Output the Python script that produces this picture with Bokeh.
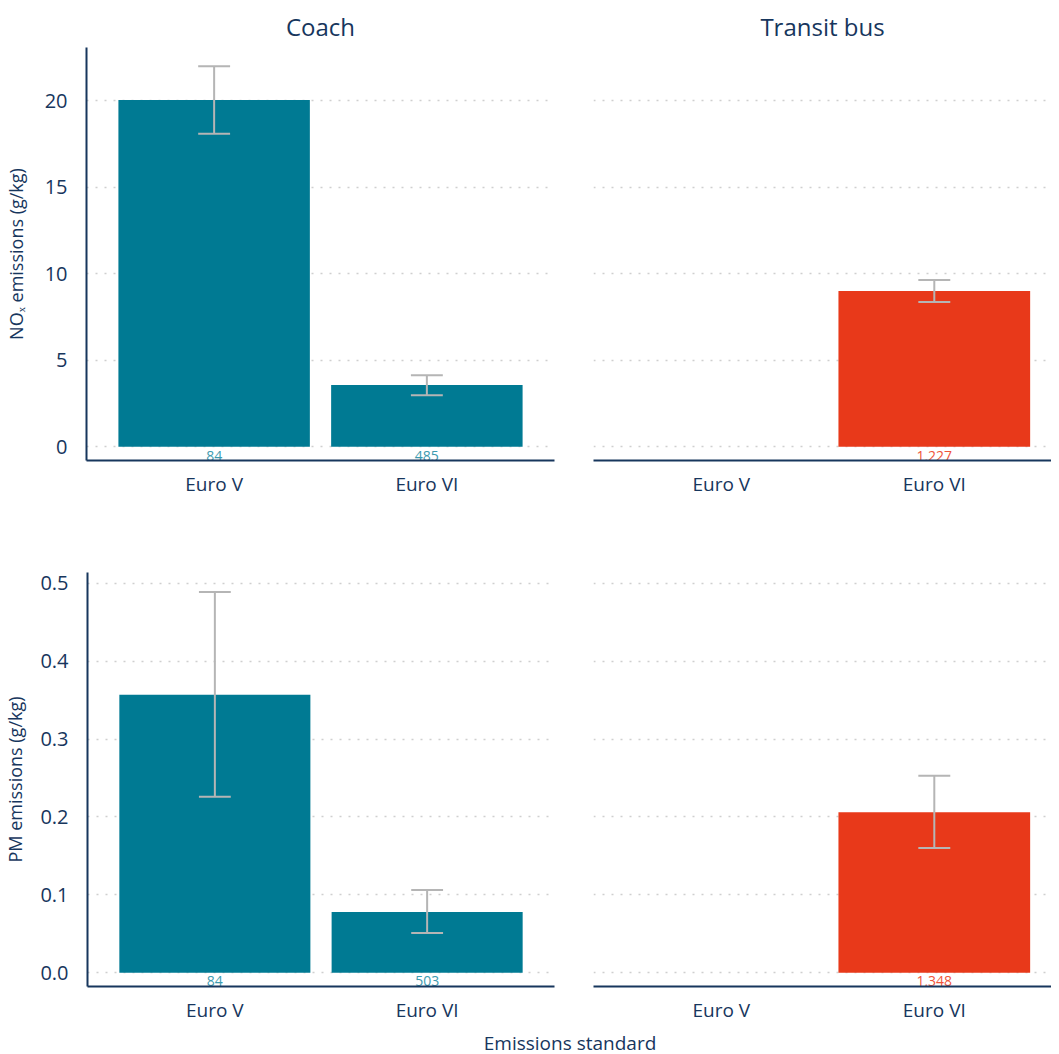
from bokeh.plotting import figure
from bokeh.layouts import column, row
from bokeh.models import FixedTicker, ColumnDataSource, Div, NumeralTickFormatter, Range1d, Spacer
from bokeh.core.properties import value
from bokeh.embed import file_html
from bokeh.resources import INLINE

# ---------------- data ----------------
standards = ["Euro V", "Euro VI"]

coach_nox = [20.05, 3.57]
coach_nox_lo = [18.1, 2.98]
coach_nox_hi = [22.0, 4.13]
coach_nox_n = [84, 485]

transit_nox = [None, 9.0]
transit_nox_lo = [None, 8.37]
transit_nox_hi = [None, 9.63]
transit_nox_n = [None, 1227]

coach_pm = [0.357, 0.078]
coach_pm_lo = [0.226, 0.051]
coach_pm_hi = [0.489, 0.106]
coach_pm_n = [84, 503]

transit_pm = [None, 0.206]
transit_pm_lo = [None, 0.160]
transit_pm_hi = [None, 0.253]
transit_pm_n = [None, 1348]

nox_ticks = [0, 5, 10, 15, 20]
pm_ticks = [0.0, 0.1, 0.2, 0.3, 0.4, 0.5]

# ---------------- style ----------------
FONT = "Open Sans"
FONT_V = value(FONT)
NAVY = "#17365d"
TEAL = "#007a93"
TEAL_TXT = "#3d9bb0"
RED = "#e8391a"
RED_TXT = "#f0553a"
ERR = "#b5b5b5"


def panel(vals, lo, hi, n, color, txt_color, yr, ticks, title, ylabel, left,
          width, height, mb_left, mb_right, mb_top, mb_bottom, xend, label_off,
          fmt=None, lab_standoff=10, title_offset=0):
    p = figure(width=width, height=height, output_backend="svg", toolbar_location=None,
               x_range=Range1d(0.4, xend), y_range=Range1d(*yr),
               min_border_left=mb_left, min_border_right=mb_right,
               min_border_top=mb_top, min_border_bottom=mb_bottom)
    xs, ys, los, his, ns = [], [], [], [], []
    for i, s in enumerate(standards):
        if vals[i] is None:
            continue
        xs.append(i + 1)
        ys.append(vals[i])
        los.append(lo[i])
        his.append(hi[i])
        ns.append(f"{n[i]:,}")
    src = ColumnDataSource(dict(x=xs, y=ys, lo=los, hi=his, n=ns,
                                cl=[x - 0.075 for x in xs], cr=[x + 0.075 for x in xs],
                                ly=[-label_off for _ in xs]))
    p.vbar(x="x", top="y", bottom=0, width=0.9, source=src, color=color, line_color=None)
    p.segment(x0="x", x1="x", y0="lo", y1="hi", source=src, line_color=ERR, line_width=2)
    p.segment(x0="cl", x1="cr", y0="lo", y1="lo", source=src, line_color=ERR, line_width=2)
    p.segment(x0="cl", x1="cr", y0="hi", y1="hi", source=src, line_color=ERR, line_width=2)
    p.text(x="x", y="ly", text="n", source=src, text_align="center", text_baseline="middle",
           text_font_size="14px", text_color=txt_color, text_font=FONT_V)

    p.outline_line_color = None
    p.xgrid.visible = False
    p.ygrid.ticker = FixedTicker(ticks=ticks)
    p.ygrid.grid_line_color = "#cfcfcf"
    p.ygrid.grid_line_dash = "2 7"
    p.ygrid.grid_line_width = 1.5

    xa = p.xaxis[0]
    xa.ticker = FixedTicker(ticks=[1, 2])
    xa.major_label_overrides = {1: standards[0], 2: standards[1]}
    xa.major_tick_line_color = None
    xa.minor_tick_line_color = None
    xa.axis_line_color = NAVY
    xa.axis_line_width = 2
    xa.major_label_text_font = FONT
    xa.major_label_text_font_size = "19px"
    xa.major_label_text_color = NAVY
    xa.major_label_standoff = 4

    ya = p.yaxis[0]
    if left:
        ya.ticker = FixedTicker(ticks=ticks)
        if fmt:
            ya.formatter = NumeralTickFormatter(format=fmt)
        ya.major_tick_line_color = None
        ya.minor_tick_line_color = None
        ya.axis_line_color = NAVY
        ya.axis_line_width = 2
        ya.major_label_text_font = FONT
        ya.major_label_text_font_size = "20px"
        ya.major_label_text_color = NAVY
        ya.major_label_standoff = 13
        ya.axis_label = ylabel
        ya.axis_label_text_font = FONT
        ya.axis_label_text_font_style = "normal"
        ya.axis_label_text_font_size = "18px"
        ya.axis_label_text_color = NAVY
        ya.axis_label_standoff = lab_standoff
    else:
        ya.visible = False

    if title:
        p.title.text = title
        p.title.align = "center"
        p.title.text_font = FONT
        p.title.text_font_size = "24px"
        p.title.text_font_style = "normal"
        p.title.text_color = NAVY
        p.title.standoff = 9
        p.title.offset = title_offset
    return p


XEND_L = 2.6
XEND_R = 0.4 + 458 / 213.0

top_yr = (-0.80, 23.08)
bot_yr = (-0.0178, 0.514)

p1 = panel(coach_nox, coach_nox_lo, coach_nox_hi, coach_nox_n, TEAL, TEAL_TXT, top_yr, nox_ticks,
           "Coach", "NOₓ emissions (g/kg)", True, 573, 520, 79, 19, 40, 63, XEND_L, 0.52,
           lab_standoff=14, title_offset=2)
p2 = panel(transit_nox, transit_nox_lo, transit_nox_hi, transit_nox_n, RED, RED_TXT, top_yr, nox_ticks,
           "Transit bus", "", False, 478, 520, 20, 0, 40, 63, XEND_R, 0.52, title_offset=6)
p3 = panel(coach_pm, coach_pm_lo, coach_pm_hi, coach_pm_n, TEAL, TEAL_TXT, bot_yr, pm_ticks,
           None, "PM emissions (g/kg)", True, 573, 503, 79, 19, 49, 40, XEND_L, 0.0105,
           fmt="0.0", lab_standoff=10)
p4 = panel(transit_pm, transit_pm_lo, transit_pm_hi, transit_pm_n, RED, RED_TXT, bot_yr, pm_ticks,
           None, "", False, 478, 503, 20, 0, 49, 40, XEND_R, 0.0105)

xlabel = Div(text=(f'<div style="margin-left:87px;width:956px;text-align:center;'
                   f'font-family:{FONT};font-size:19px;line-height:24px;color:{NAVY};'
                   f'white-space:nowrap;">Emissions standard</div>'),
             width=1043, height=24)

layout = column(Spacer(width=1043, height=3), row(p1, p2), row(p3, p4), xlabel)

open("out.html", "w").write(file_html(layout, INLINE))
